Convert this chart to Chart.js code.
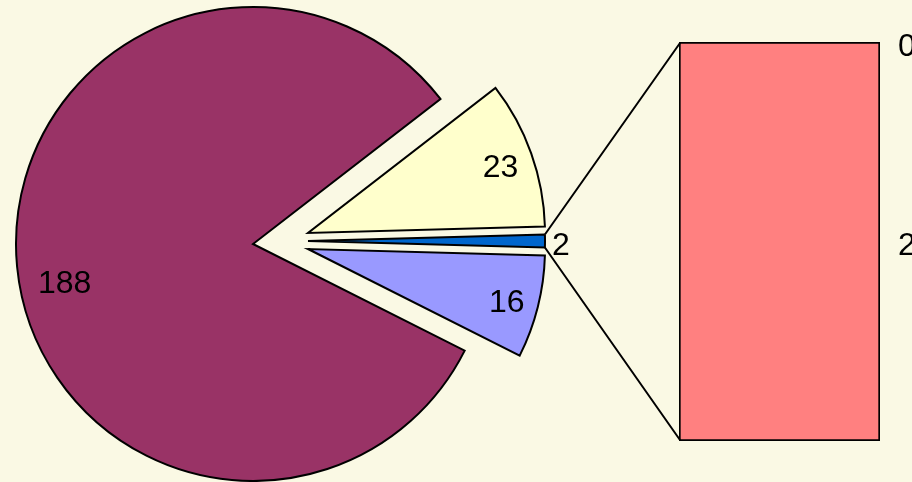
<!DOCTYPE html>
<html>
<head>
<meta charset="utf-8">
<script src="https://cdn.jsdelivr.net/npm/chart.js@4.4.1/dist/chart.umd.min.js"></script>
<style>
  html, body { margin: 0; padding: 0; background: #FAF9E4; overflow: hidden; }
  #wrap { position: relative; width: 912px; height: 482px; }
  #wrap canvas { position: absolute; left: 0; top: 0; }
</style>
</head>
<body>
<div id="wrap">
  <canvas id="bar" width="912" height="482"></canvas>
  <canvas id="pie" width="912" height="482"></canvas>
</div>
<script>
// Pie of bar data
const pieLabels = ["A", "B", "Other", "D"]
const pieValues = [188, 23, 2, 16]
const pieColors = ["#993366", "#FFFFCC", "#0066CC", "#9999FF"]
const otherIndex = 2

const barLabels = ["C1", "C2"]
const barValues = [2, 0]
const barColors = ["#FF8080", "#FF8080"]

// how far each slice is pulled out (px)
const explodeX = [-55, 0, 0, 0]
const explodeY = [3, -8, 0, 8]
// small hand nudges for the slice labels (Excel "best fit")
const labelNudgeX = [8, 0, 0, 0]
const labelNudgeY = [17, 0, 0, 0]

const FONT = "32px 'Liberation Sans', Arial, sans-serif"
const LINE = 2

document.addEventListener("DOMContentLoaded", () => {
  const total = pieValues.reduce((a, b) => a + b, 0)
  const before = pieValues.slice(0, otherIndex).reduce((a, b) => a + b, 0)
  // turn the pie so the "other" slice points at the bar
  const rotation = 90 - ((before + pieValues[otherIndex] / 2) / total) * 360

  // Bar part
  const barLabelPlugin = {
    id: "barLabels",
    afterDatasetsDraw(chart) {
      const ctx = chart.ctx
      ctx.save()
      ctx.font = FONT
      ctx.fillStyle = "#000"
      ctx.textAlign = "left"
      ctx.textBaseline = "middle"
      chart.data.datasets.forEach((ds, i) => {
        const el = chart.getDatasetMeta(i).data[0]
        const y = (el.y + el.base) / 2
        ctx.fillText(String(barValues[i]), el.x + el.width / 2 + 18, y + 5)
      })
      ctx.restore()
    },
  }

  const barChart = new Chart(document.getElementById("bar"), {
    type: "bar",
    data: {
      labels: [""],
      datasets: barValues.map((v, i) => ({
        label: barLabels[i],
        data: [v],
        backgroundColor: barColors[i],
        borderColor: "#000",
        borderWidth: LINE,
        borderSkipped: false,
        barPercentage: 1,
        categoryPercentage: 1,
      })),
    },
    options: {
      responsive: false,
      animation: false,
      events: [],
      layout: { padding: { left: 679, right: 32, top: 42, bottom: 41 } },
      scales: {
        x: { display: false, stacked: true },
        y: { display: false, stacked: true, min: 0, max: barValues.reduce((a, b) => a + b, 0) },
      },
      plugins: { legend: { display: false }, tooltip: { enabled: false } },
    },
    plugins: [barLabelPlugin],
  })

  // Pie part: slices drawn with their own shift, then labels and connector lines
  const explodePlugin = {
    id: "explode",
    beforeDatasetDraw(chart, args) {
      const ctx = chart.ctx
      args.meta.data.forEach((arc, i) => {
        ctx.save()
        ctx.translate(explodeX[i], explodeY[i])
        arc.draw(ctx)
        ctx.restore()
      })
      return false
    },
    afterDatasetsDraw(chart) {
      const ctx = chart.ctx
      const arcs = chart.getDatasetMeta(0).data
      ctx.save()
      ctx.font = FONT
      ctx.fillStyle = "#000"
      ctx.textBaseline = "middle"
      arcs.forEach((arc, i) => {
        const mid = (arc.startAngle + arc.endAngle) / 2
        const cx = arc.x + explodeX[i] + labelNudgeX[i]
        const cy = arc.y + explodeY[i] + labelNudgeY[i]
        const r = arc.outerRadius
        const text = String(pieValues[i])
        if (i === otherIndex) {
          ctx.textAlign = "left"
          ctx.fillText(text, cx + Math.cos(mid) * (r + 7), cy + Math.sin(mid) * (r + 7) + 5)
        } else {
          const w = ctx.measureText(text).width
          const reach = Math.abs(Math.cos(mid)) * w / 2 + Math.abs(Math.sin(mid)) * 11.5
          const d = r - 12 - reach
          ctx.textAlign = "center"
          ctx.fillText(text, cx + Math.cos(mid) * d, cy + Math.sin(mid) * d + 4)
        }
      })

      // connector lines to the bar
      const arc = arcs[otherIndex]
      const ox = arc.x + explodeX[otherIndex]
      const oy = arc.y + explodeY[otherIndex]
      const R = arc.outerRadius
      const bottomBar = barChart.getDatasetMeta(0).data[0]
      const topBar = barChart.getDatasetMeta(barValues.length - 1).data[0]
      const left = bottomBar.x - bottomBar.width / 2 + LINE / 2
      ctx.strokeStyle = "#000"
      ctx.lineWidth = LINE
      ctx.beginPath()
      ctx.moveTo(ox + Math.cos(arc.startAngle) * R, oy + Math.sin(arc.startAngle) * R)
      ctx.lineTo(left, topBar.y + LINE / 2)
      ctx.moveTo(ox + Math.cos(arc.endAngle) * R, oy + Math.sin(arc.endAngle) * R)
      ctx.lineTo(left, bottomBar.base - LINE / 2)
      ctx.stroke()
      ctx.restore()
    },
  }

  new Chart(document.getElementById("pie"), {
    type: "pie",
    data: {
      labels: pieLabels,
      datasets: [
        {
          data: pieValues,
          backgroundColor: pieColors,
          borderColor: "#000",
          borderWidth: LINE,
          borderJoinStyle: "miter",
          offset: 0,
          hoverOffset: 0,
        },
      ],
    },
    options: {
      responsive: false,
      animation: false,
      events: [],
      radius: 237,
      rotation: rotation,
      layout: { padding: { right: 296 } },
      plugins: { legend: { display: false }, tooltip: { enabled: false } },
    },
    plugins: [explodePlugin],
  })
})
</script>
</body>
</html>
